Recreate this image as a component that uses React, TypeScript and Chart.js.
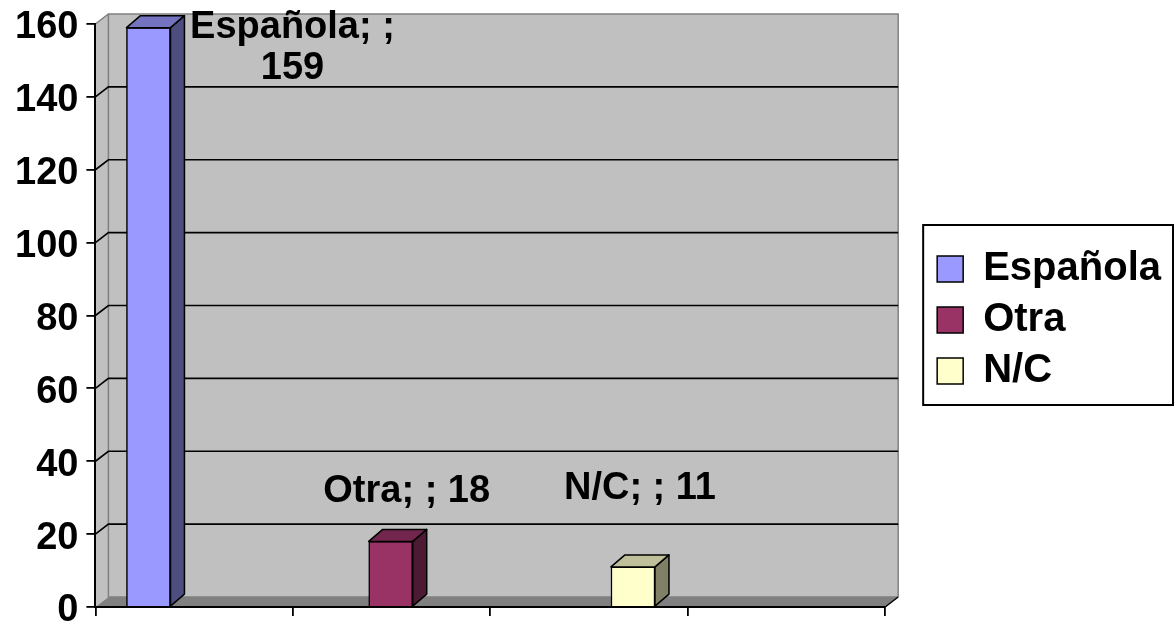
import React, { useEffect, useRef } from "react";
import { Chart, registerables } from "chart.js";

Chart.register(...registerables);

// ---- data ----
const SERIES_NAMES = ["Española", "Otra", "N/C"];
const SERIES_VALUES = [159, 18, 11];
const SERIES_COLORS = ["#9999FF", "#993366", "#FFFFCC"];
const Y_MIN = 0;
const Y_MAX = 160;
const Y_STEP = 20;
const X_DIVISIONS = 4;

// ---- style ----
const FONT = "'Liberation Sans', Arial, Helvetica, sans-serif";
const WALL = { dx: 13, dy: -10, wall: "#c0c0c0", floor: "#808080", edge: "#808080" };
const BAR3D = { dx: 14, dy: -12 };
const LABEL_PLACEMENT = [
  { dx: 144, dy: 0, wrap: true },
  { dx: 16, dy: -50, wrap: false },
  { dx: 7, dy: -78, wrap: false },
];
const X_RANGE = { min: -0.219, max: 3.041 };

function shade(hex: string, f: number): string {
  const n = parseInt(hex.slice(1), 16);
  const r = Math.round(((n >> 16) & 255) * f);
  const g = Math.round(((n >> 8) & 255) * f);
  const b = Math.round((n & 255) * f);
  return `rgb(${r},${g},${b})`;
}

const excel3D = {
  id: "excel3D",
  beforeDraw(chart: any) {
    const { ctx, chartArea } = chart;
    const { left: L, right: R, top: T, bottom: B } = chartArea;
    const { dx, dy } = WALL;
    const ys = chart.scales.y;
    ctx.save();
    ctx.fillStyle = "#ffffff";
    ctx.fillRect(0, 0, chart.width, chart.height);
    // back wall
    ctx.fillStyle = WALL.wall;
    ctx.fillRect(L + dx, T + dy, R - L, B - T);
    // left wall
    ctx.beginPath();
    ctx.moveTo(L, T);
    ctx.lineTo(L + dx, T + dy);
    ctx.lineTo(L + dx, B + dy);
    ctx.lineTo(L, B);
    ctx.closePath();
    ctx.fill();
    // floor
    ctx.fillStyle = WALL.floor;
    ctx.beginPath();
    ctx.moveTo(L, B);
    ctx.lineTo(L + dx, B + dy);
    ctx.lineTo(R + dx, B + dy);
    ctx.lineTo(R, B);
    ctx.closePath();
    ctx.fill();
    // wall edges
    ctx.strokeStyle = WALL.edge;
    ctx.lineWidth = 1.5;
    ctx.beginPath();
    ctx.moveTo(L, T);
    ctx.lineTo(L + dx, T + dy);
    ctx.lineTo(R + dx, T + dy);
    ctx.lineTo(R + dx, B + dy);
    ctx.moveTo(L + dx, T + dy);
    ctx.lineTo(L + dx, B + dy);
    ctx.lineTo(R + dx, B + dy);
    ctx.stroke();
    ctx.strokeStyle = "#000";
    ctx.beginPath();
    ctx.moveTo(R + dx, B + dy);
    ctx.lineTo(R, B);
    ctx.stroke();
    // gridlines on back wall
    ctx.strokeStyle = "#000";
    ctx.lineWidth = 1.6;
    ys.ticks.forEach((t: any) => {
      if (t.value <= ys.min || t.value >= ys.max) return;
      const py = ys.getPixelForValue(t.value);
      ctx.beginPath();
      ctx.moveTo(L, py);
      ctx.lineTo(L + dx, py + dy);
      ctx.lineTo(R + dx, py + dy);
      ctx.stroke();
    });
    ctx.restore();
  },
  afterDatasetsDraw(chart: any) {
    const { ctx } = chart;
    const { dx, dy } = BAR3D;
    ctx.save();
    chart.data.datasets.forEach((ds: any, i: number) => {
      const meta = chart.getDatasetMeta(i);
      meta.data.forEach((bar: any, j: number) => {
        const { x, y, base, width } = bar.getProps(["x", "y", "base", "width"], true);
        const l = x - width / 2;
        const r = x + width / 2;
        ctx.lineWidth = 1.5;
        ctx.strokeStyle = "#000";
        ctx.lineJoin = "round";
        ctx.fillStyle = shade(ds.backgroundColor, 0.5);
        ctx.beginPath();
        ctx.moveTo(r, y);
        ctx.lineTo(r + dx, y + dy);
        ctx.lineTo(r + dx, base + dy);
        ctx.lineTo(r, base);
        ctx.closePath();
        ctx.fill();
        ctx.stroke();
        ctx.fillStyle = shade(ds.backgroundColor, 0.75);
        ctx.beginPath();
        ctx.moveTo(l, y);
        ctx.lineTo(l + dx, y + dy);
        ctx.lineTo(r + dx, y + dy);
        ctx.lineTo(r, y);
        ctx.closePath();
        ctx.fill();
        ctx.stroke();

        // data label
        const p = LABEL_PLACEMENT[i];
        const value = ds.data[j].y;
        ctx.fillStyle = "#000";
        ctx.font = `bold 38px ${FONT}`;
        ctx.textAlign = "center";
        ctx.textBaseline = "middle";
        const cx = x + p.dx;
        const cy = y + p.dy;
        if (p.wrap) {
          ctx.fillText(`${ds.label}; ;`, cx, cy);
          ctx.fillText(`${value}`, cx, cy + 41);
        } else {
          ctx.fillText(`${ds.label}; ; ${value}`, cx, cy);
        }
      });
    });
    ctx.restore();
  },
  afterDraw(chart: any) {
    const lg = chart.legend;
    const hb = lg && lg.legendHitBoxes;
    if (!hb || !hb.length) return;
    const { ctx } = chart;
    const left = Math.min(...hb.map((h: any) => h.left)) - 14;
    const right = Math.max(...hb.map((h: any) => h.left + h.width)) + 12;
    const top = Math.min(...hb.map((h: any) => h.top)) - 24;
    const bottom = Math.max(...hb.map((h: any) => h.top + h.height)) + 14;
    ctx.save();
    ctx.strokeStyle = "#000";
    ctx.lineWidth = 2;
    ctx.strokeRect(left, top, right - left, bottom - top);
    ctx.restore();
  },
};

export default function App() {
  const ref = useRef<HTMLCanvasElement | null>(null);

  useEffect(() => {
    if (!ref.current) return;
    const datasets = SERIES_NAMES.map((name, i) => ({
      label: name,
      data: [{ x: i, y: SERIES_VALUES[i] }],
      backgroundColor: SERIES_COLORS[i],
      borderColor: "#000000",
      borderWidth: 1.5,
      barThickness: 44,
      grouped: false,
    }));

    const chart = new Chart(ref.current, {
      type: "bar",
      data: { datasets },
      plugins: [excel3D],
      options: {
        animation: false,
        responsive: false,
        events: [],
        layout: { padding: { left: 7, top: 24, bottom: 11, right: 4 } },
        plugins: {
          tooltip: { enabled: false },
          legend: {
            display: true,
            position: "right",
            maxWidth: 320,
            labels: {
              color: "#000",
              font: { family: FONT, size: 40, weight: "bold" },
              boxWidth: 26,
              boxHeight: 26,
              padding: 11,
            },
          },
        },
        scales: {
          x: {
            type: "linear",
            offset: false,
            min: X_RANGE.min,
            max: X_RANGE.max,
            afterBuildTicks: (scale: any) => {
              const span = X_RANGE.max - X_RANGE.min;
              const ticks = [];
              for (let k = 0; k <= X_DIVISIONS; k++) {
                ticks.push({ value: X_RANGE.min + (k * span) / X_DIVISIONS });
              }
              scale.ticks = ticks;
            },
            ticks: { display: false },
            grid: {
              display: true,
              offset: false,
              drawOnChartArea: false,
              drawTicks: true,
              tickLength: 9,
              color: "#000",
              lineWidth: 1.8,
            },
            border: { display: true, color: "#000", width: 2 },
          },
          y: {
            type: "linear",
            min: Y_MIN,
            max: Y_MAX,
            ticks: {
              stepSize: Y_STEP,
              color: "#000",
              padding: 8,
              labelOffset: 4,
              font: { family: FONT, size: 38, weight: "bold", lineHeight: 0.5 },
            },
            grid: {
              display: true,
              drawOnChartArea: false,
              drawTicks: true,
              tickLength: 9,
              color: "#000",
              lineWidth: 1.8,
            },
            border: { display: true, color: "#000", width: 2 },
          },
          gap: {
            type: "linear",
            position: "right",
            display: true,
            grid: { display: false },
            ticks: { display: false },
            border: { display: false },
            afterFit: (scale: any) => {
              scale.width = 41;
            },
          },
        },
      } as any,
    });
    return () => chart.destroy();
  }, []);

  return (
    <div style={{ position: "fixed", left: 0, top: 0, width: 1175, height: 627, background: "#fff" }}>
      <canvas ref={ref} width={1175} height={627} />
    </div>
  );
}
